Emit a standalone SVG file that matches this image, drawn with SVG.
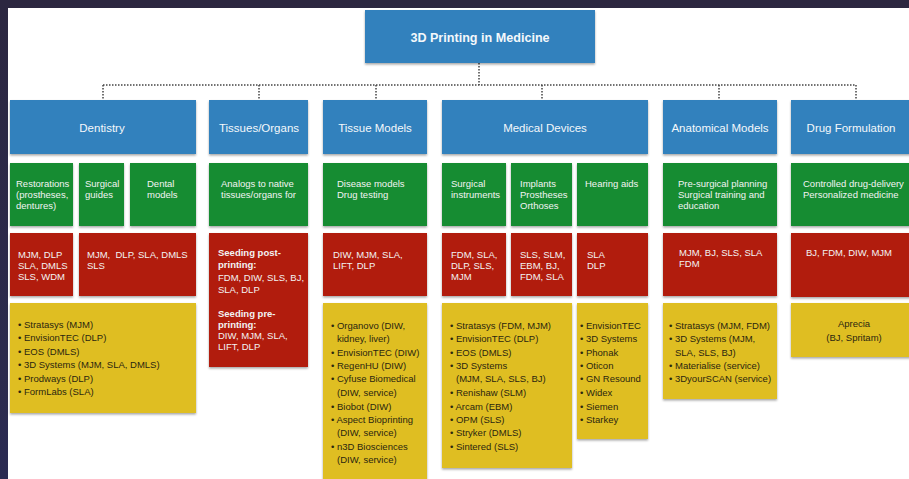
<svg xmlns="http://www.w3.org/2000/svg" width="909" height="479" viewBox="0 0 909 479">
  <defs>
    <filter id="shadow" x="-5%" y="-5%" width="110%" height="115%">
      <feDropShadow dx="0" dy="1.5" stdDeviation="0.8" flood-color="#000" flood-opacity="0.35"/>
    </filter>
    <linearGradient id="frame" x1="0" y1="0" x2="0" y2="1">
      <stop offset="0" stop-color="#2c2740"/>
      <stop offset="1" stop-color="#2b2b52"/>
    </linearGradient>
  </defs>
  <style>
    .blue { fill: #3281bd; filter: url(#shadow); }
    .green { fill: #178c30; filter: url(#shadow); }
    .red { fill: #b11b0b; filter: url(#shadow); }
    .yellow { fill: #dfbe24; filter: url(#shadow); }
    text { font-family: "Liberation Sans", Arial, Helvetica, sans-serif; }
    .title { font-size: 12.6px; font-weight: bold; fill: #f4f8fb; text-anchor: middle; }
    .cat { font-size: 11.5px; fill: #f4f8fb; text-anchor: middle; }
    .lt { font-size: 9.5px; fill: #f3f3f3; }
    .bold { font-weight: bold; }
    .dk { font-size: 9.5px; fill: #2b2610; }
    .mid { text-anchor: middle; }
    .link { fill: none; stroke: #444444; stroke-width: 1.5; stroke-dasharray: 1.5 1.5; }
  </style>

  <!-- frame and page -->
  <rect x="0" y="0" width="909" height="479" fill="url(#frame)"/>
  <rect x="8" y="8" width="901" height="471" fill="#ffffff"/>

  <!-- connectors -->
  <g id="connectors">
    <path class="link" d="M479 63 V85"/>
    <path class="link" d="M103 85 H856"/>
    <path class="link" d="M103 85 V100"/>
    <path class="link" d="M259 85 V100"/>
    <path class="link" d="M376 85 V100"/>
    <path class="link" d="M542 85 V100"/>
    <path class="link" d="M719 85 V100"/>
    <path class="link" d="M856 85 V100"/>
  </g>

  <!-- root -->
  <g id="root">
    <rect class="blue" x="365" y="10" width="230" height="53"/>
    <text class="title" x="480" y="41.5">3D Printing in Medicine</text>
  </g>

  <!-- categories -->
  <g id="cat-dentistry">
    <rect class="blue" x="10" y="100" width="186" height="54"/>
    <text class="cat" x="102" y="132">Dentistry</text>
  </g>
  <g id="cat-tissues-organs">
    <rect class="blue" x="209" y="100" width="99" height="54"/>
    <text class="cat" x="259" y="132">Tissues/Organs</text>
  </g>
  <g id="cat-tissue-models">
    <rect class="blue" x="323" y="100" width="104" height="54"/>
    <text class="cat" x="375" y="132">Tissue Models</text>
  </g>
  <g id="cat-medical-devices">
    <rect class="blue" x="442" y="100" width="206" height="54"/>
    <text class="cat" x="545" y="132">Medical Devices</text>
  </g>
  <g id="cat-anatomical-models">
    <rect class="blue" x="663" y="100" width="114" height="54"/>
    <text class="cat" x="720" y="132">Anatomical Models</text>
  </g>
  <g id="cat-drug-formulation">
    <rect class="blue" x="791" y="100" width="125" height="54"/>
    <text class="cat" x="851" y="132">Drug Formulation</text>
  </g>

  <!-- applications (green) -->
  <g id="app-restorations">
    <rect class="green" x="10" y="163" width="63" height="63"/>
    <text class="lt" x="16" y="186.5">Restorations</text>
    <text class="lt" x="16" y="197.5">(prostheses,</text>
    <text class="lt" x="16" y="208.5">dentures)</text>
  </g>
  <g id="app-surgical-guides">
    <rect class="green" x="79" y="163" width="45" height="63"/>
    <text class="lt" x="85" y="186.5">Surgical</text>
    <text class="lt" x="85" y="197.5">guides</text>
  </g>
  <g id="app-dental-models">
    <rect class="green" x="130" y="163" width="66" height="63"/>
    <text class="lt" x="147" y="186.5">Dental</text>
    <text class="lt" x="147" y="197.5">models</text>
  </g>
  <g id="app-analogs">
    <rect class="green" x="209" y="163" width="99" height="63"/>
    <text class="lt" x="221" y="186.5">Analogs to native</text>
    <text class="lt" x="221" y="197.5">tissues/organs for</text>
  </g>
  <g id="app-disease-models">
    <rect class="green" x="323" y="163" width="104" height="63"/>
    <text class="lt" x="337" y="186.5">Disease models</text>
    <text class="lt" x="337" y="197.5">Drug testing</text>
  </g>
  <g id="app-surgical-instruments">
    <rect class="green" x="442" y="163" width="64" height="63"/>
    <text class="lt" x="451" y="186.5">Surgical</text>
    <text class="lt" x="451" y="197.5">instruments</text>
  </g>
  <g id="app-implants">
    <rect class="green" x="511" y="163" width="61" height="63"/>
    <text class="lt" x="520" y="186.5">Implants</text>
    <text class="lt" x="520" y="197.5">Prostheses</text>
    <text class="lt" x="520" y="208.5">Orthoses</text>
  </g>
  <g id="app-hearing-aids">
    <rect class="green" x="577" y="163" width="71" height="63"/>
    <text class="lt" x="585" y="186.5">Hearing aids</text>
  </g>
  <g id="app-presurgical">
    <rect class="green" x="663" y="163" width="114" height="63"/>
    <text class="lt" x="678" y="186.5">Pre-surgical planning</text>
    <text class="lt" x="678" y="197.5">Surgical training and</text>
    <text class="lt" x="678" y="208.5">education</text>
  </g>
  <g id="app-drug-delivery">
    <rect class="green" x="791" y="163" width="125" height="63"/>
    <text class="lt" x="803" y="186.5">Controlled drug-delivery</text>
    <text class="lt" x="803" y="197.5">Personalized medicine</text>
  </g>

  <!-- printing processes (red) -->
  <g id="proc-restorations">
    <rect class="red" x="10" y="233" width="63" height="63"/>
    <text class="lt" x="18" y="257.5">MJM, DLP</text>
    <text class="lt" x="18" y="268.5">SLA, DMLS</text>
    <text class="lt" x="18" y="279.5">SLS, WDM</text>
  </g>
  <g id="proc-guides-models">
    <rect class="red" x="79" y="233" width="117" height="63"/>
    <text class="lt" x="87" y="257.5" xml:space="preserve">MJM,  DLP, SLA, DMLS</text>
    <text class="lt" x="87" y="268.5">SLS</text>
  </g>
  <g id="proc-seeding">
    <rect class="red" x="209" y="233" width="99" height="134"/>
    <text class="lt bold" x="218" y="255.5">Seeding post-</text>
    <text class="lt bold" x="218" y="268">printing:</text>
    <text class="lt" x="218" y="280.5">FDM, DIW, SLS, BJ,</text>
    <text class="lt" x="218" y="292.5">SLA, DLP</text>
    <text class="lt bold" x="218" y="316.5">Seeding pre-</text>
    <text class="lt bold" x="218" y="327.5">printing:</text>
    <text class="lt" x="218" y="338.5">DIW, MJM, SLA,</text>
    <text class="lt" x="218" y="350">LIFT, DLP</text>
  </g>
  <g id="proc-tissue-models">
    <rect class="red" x="323" y="233" width="104" height="63"/>
    <text class="lt" x="333" y="257.5">DIW, MJM, SLA,</text>
    <text class="lt" x="333" y="268.5">LIFT, DLP</text>
  </g>
  <g id="proc-instruments">
    <rect class="red" x="442" y="233" width="64" height="63"/>
    <text class="lt" x="451" y="257.5">FDM, SLA,</text>
    <text class="lt" x="451" y="268.5">DLP, SLS,</text>
    <text class="lt" x="451" y="279.5">MJM</text>
  </g>
  <g id="proc-implants">
    <rect class="red" x="511" y="233" width="61" height="63"/>
    <text class="lt" x="520" y="257.5">SLS, SLM,</text>
    <text class="lt" x="520" y="268.5">EBM, BJ,</text>
    <text class="lt" x="520" y="279.5">FDM, SLA</text>
  </g>
  <g id="proc-hearing">
    <rect class="red" x="577" y="233" width="71" height="63"/>
    <text class="lt" x="587" y="257.5">SLA</text>
    <text class="lt" x="587" y="268.5">DLP</text>
  </g>
  <g id="proc-anatomical">
    <rect class="red" x="663" y="233" width="114" height="63"/>
    <text class="lt" x="679" y="255.5">MJM, BJ, SLS, SLA</text>
    <text class="lt" x="679" y="266.5">FDM</text>
  </g>
  <g id="proc-drug">
    <rect class="red" x="791" y="233" width="125" height="64"/>
    <text class="lt" x="806" y="255.5">BJ, FDM, DIW, MJM</text>
  </g>

  <!-- companies (yellow) -->
  <g id="co-dentistry">
    <rect class="yellow" x="10" y="303" width="186" height="110"/>
    <text class="dk" x="18" y="327.5">• Stratasys (MJM)</text>
    <text class="dk" x="18" y="341">• EnvisionTEC (DLP)</text>
    <text class="dk" x="18" y="354.5">• EOS (DMLS)</text>
    <text class="dk" x="18" y="368">• 3D Systems (MJM, SLA, DMLS)</text>
    <text class="dk" x="18" y="381.5">• Prodways (DLP)</text>
    <text class="dk" x="18" y="395">• FormLabs (SLA)</text>
  </g>
  <g id="co-tissue-models">
    <rect class="yellow" x="323" y="303" width="104" height="180"/>
    <text class="dk" x="331" y="328.5">• Organovo (DIW,</text>
    <text class="dk" x="337" y="341.5">kidney, liver)</text>
    <text class="dk" x="331" y="355.5">• EnvisionTEC (DIW)</text>
    <text class="dk" x="331" y="368.5">• RegenHU (DIW)</text>
    <text class="dk" x="331" y="381.5">• Cyfuse Biomedical</text>
    <text class="dk" x="337" y="395.5">(DIW, service)</text>
    <text class="dk" x="331" y="409.5">• Biobot (DIW)</text>
    <text class="dk" x="331" y="422.5">• Aspect Bioprinting</text>
    <text class="dk" x="337" y="435.5">(DIW, service)</text>
    <text class="dk" x="331" y="449.5">• n3D Biosciences</text>
    <text class="dk" x="337" y="462.5">(DIW, service)</text>
  </g>
  <g id="co-instruments-implants">
    <rect class="yellow" x="442" y="303" width="130" height="165"/>
    <text class="dk" x="450" y="328.5">• Stratasys (FDM, MJM)</text>
    <text class="dk" x="450" y="341.5">• EnvisionTEC (DLP)</text>
    <text class="dk" x="450" y="355.5">• EOS (DMLS)</text>
    <text class="dk" x="450" y="368.5">• 3D Systems</text>
    <text class="dk" x="456" y="381.5">(MJM, SLA, SLS, BJ)</text>
    <text class="dk" x="450" y="395.5">• Renishaw (SLM)</text>
    <text class="dk" x="450" y="409.5">• Arcam (EBM)</text>
    <text class="dk" x="450" y="422.5">• OPM (SLS)</text>
    <text class="dk" x="450" y="435.5">• Stryker (DMLS)</text>
    <text class="dk" x="450" y="449.5">• Sintered (SLS)</text>
  </g>
  <g id="co-hearing">
    <rect class="yellow" x="577" y="303" width="71" height="136"/>
    <text class="dk" x="580" y="328.5">• EnvisionTEC</text>
    <text class="dk" x="580" y="341.5">• 3D Systems</text>
    <text class="dk" x="580" y="355.5">• Phonak</text>
    <text class="dk" x="580" y="368.5">• Oticon</text>
    <text class="dk" x="580" y="381.5">• GN Resound</text>
    <text class="dk" x="580" y="395.5">• Widex</text>
    <text class="dk" x="580" y="409.5">• Siemen</text>
    <text class="dk" x="580" y="422.5">• Starkey</text>
  </g>
  <g id="co-anatomical">
    <rect class="yellow" x="663" y="303" width="114" height="96"/>
    <text class="dk" x="669" y="328.5">• Stratasys (MJM, FDM)</text>
    <text class="dk" x="669" y="341.5">• 3D Systems (MJM,</text>
    <text class="dk" x="675" y="355.5">SLA, SLS, BJ)</text>
    <text class="dk" x="669" y="368.5">• Materialise (service)</text>
    <text class="dk" x="669" y="381.5">• 3DyourSCAN (service)</text>
  </g>
  <g id="co-drug">
    <rect class="yellow" x="791" y="303" width="125" height="54"/>
    <text class="dk mid" x="854" y="326.5">Aprecia</text>
    <text class="dk mid" x="854" y="340.5">(BJ, Spritam)</text>
  </g>
</svg>
